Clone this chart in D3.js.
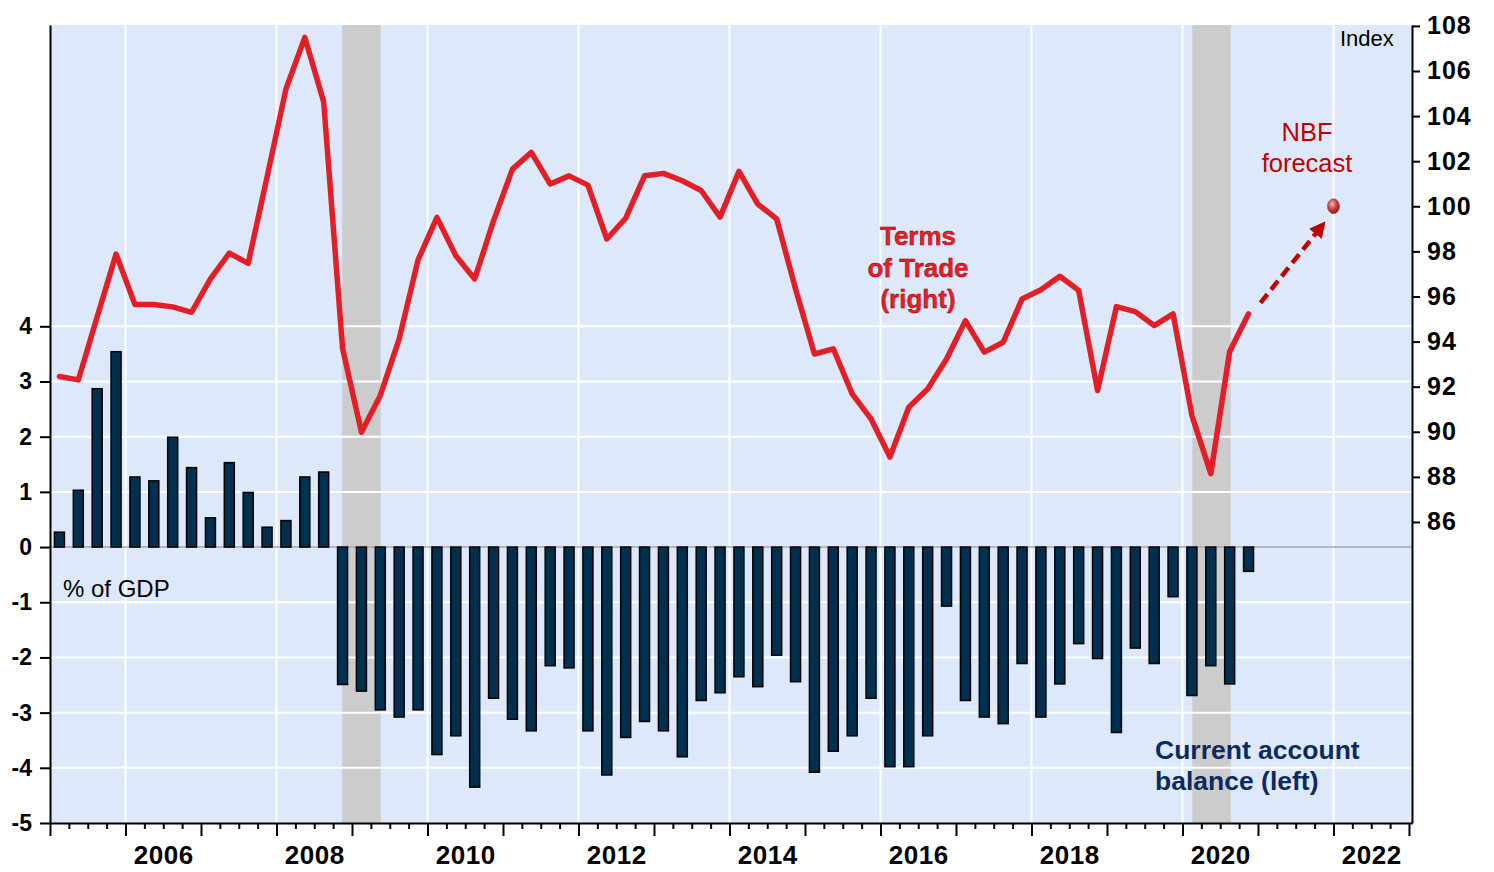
<!DOCTYPE html>
<html>
<head>
<meta charset="utf-8">
<script src="https://cdn.jsdelivr.net/npm/d3@7"></script>
<style>
  body { margin: 0; background: #fff; }
  svg { display: block; font-family: "Liberation Sans", Arial, sans-serif; }
</style>
</head>
<body>
<div id="chart"></div>
<script>
// Quarters, 2005Q1 .. 2020Q4
const quarters = [
  "2005Q1", "2005Q2", "2005Q3", "2005Q4", "2006Q1", "2006Q2", "2006Q3", "2006Q4",
  "2007Q1", "2007Q2", "2007Q3", "2007Q4", "2008Q1", "2008Q2", "2008Q3", "2008Q4",
  "2009Q1", "2009Q2", "2009Q3", "2009Q4", "2010Q1", "2010Q2", "2010Q3", "2010Q4",
  "2011Q1", "2011Q2", "2011Q3", "2011Q4", "2012Q1", "2012Q2", "2012Q3", "2012Q4",
  "2013Q1", "2013Q2", "2013Q3", "2013Q4", "2014Q1", "2014Q2", "2014Q3", "2014Q4",
  "2015Q1", "2015Q2", "2015Q3", "2015Q4", "2016Q1", "2016Q2", "2016Q3", "2016Q4",
  "2017Q1", "2017Q2", "2017Q3", "2017Q4", "2018Q1", "2018Q2", "2018Q3", "2018Q4",
  "2019Q1", "2019Q2", "2019Q3", "2019Q4", "2020Q1", "2020Q2", "2020Q3", "2020Q4"
];

// Current account balance, % of GDP (left axis)
const currentAccount = [
  0.27, 1.03, 2.87, 3.54,
  1.27, 1.20, 1.99, 1.44,
  0.53, 1.53, 0.99, 0.36,
  0.48, 1.27, 1.36, -2.49,
  -2.61, -2.95, -3.08, -2.95,
  -3.76, -3.42, -4.35, -2.74,
  -3.12, -3.33, -2.15, -2.19,
  -3.33, -4.13, -3.45, -3.16,
  -3.33, -3.80, -2.78, -2.64,
  -2.35, -2.53, -1.96, -2.44,
  -4.08, -3.70, -3.42, -2.74,
  -3.98, -3.98, -3.42, -1.07,
  -2.78, -3.08, -3.20, -2.11,
  -3.08, -2.48, -1.75, -2.02,
  -3.36, -1.83, -2.11, -0.90,
  -2.69, -2.15, -2.48, -0.44
];

// Terms of trade index (right axis)
const termsOfTrade = [
  92.45, 92.30, 95.10, 97.88,
  95.64, 95.64, 95.54, 95.30,
  96.78, 97.92, 97.47, 101.30,
  105.20, 107.49, 104.63, 93.70,
  89.98, 91.61, 94.12, 97.62,
  99.51, 97.81, 96.78, 99.36,
  101.65, 102.39, 100.99, 101.35,
  100.94, 98.55, 99.47, 101.35,
  101.46, 101.13, 100.70, 99.52,
  101.55, 100.10, 99.44, 96.33,
  93.45, 93.68, 91.68, 90.57,
  88.88, 91.09, 91.90, 93.23,
  94.93, 93.53, 93.97, 95.89,
  96.30, 96.90, 96.27, 91.83,
  95.55, 95.33, 94.71, 95.23,
  90.72, 88.14, 93.56, 95.23
];

// NBF forecast point
const forecastYear = 2022.0;
const forecastValue = 100;

// Recession shading (decimal years)
const recessions = [[2008.87, 2009.38], [2020.13, 2020.64]];

// Axis ticks
const leftTicks = [-5, -4, -3, -2, -1, 0, 1, 2, 3, 4];
const rightTicks = [86, 88, 90, 92, 94, 96, 98, 100, 102, 104, 106, 108];
const labelYears = [2006, 2008, 2010, 2012, 2014, 2016, 2018, 2020, 2022];

// helpers
const quarterStart = q => +q.slice(0, 4) + (+q.slice(5) - 1) / 4;
const quarterMid = q => quarterStart(q) + 0.125;

const W = 1494, H = 872;
const plot = {left: 50, right: 1412, top: 25, bottom: 823};
const FONT = "Liberation Sans, Arial, sans-serif";

const svg = d3.select("#chart").append("svg")
  .attr("width", W).attr("height", H);

const x = d3.scaleLinear().domain([2005, 2023.04]).range([plot.left, plot.right]);
const yLeft = d3.scaleLinear().domain([-5, 9.46]).range([plot.bottom, plot.top]);
const yRight = d3.scaleLinear().domain([72.65, 108.04]).range([plot.bottom, plot.top]);

// background
svg.append("rect")
  .attr("x", plot.left).attr("y", plot.top)
  .attr("width", plot.right - plot.left).attr("height", plot.bottom - plot.top)
  .attr("fill", "#dde9fb");

// recessions
svg.selectAll("rect.recession").data(recessions).enter().append("rect")
  .attr("class", "recession")
  .attr("x", d => x(d[0])).attr("y", plot.top)
  .attr("width", d => x(d[1]) - x(d[0])).attr("height", plot.bottom - plot.top)
  .attr("fill", "#cccccc");

// vertical gridlines
svg.selectAll("line.vgrid").data(labelYears).enter().append("line")
  .attr("class", "vgrid")
  .attr("x1", d => x(d)).attr("x2", d => x(d))
  .attr("y1", plot.top).attr("y2", plot.bottom)
  .attr("stroke", "#fff").attr("stroke-width", 2);

// horizontal gridlines (left axis values)
svg.selectAll("line.hgrid").data(leftTicks.filter(d => d !== 0 && d !== -5)).enter().append("line")
  .attr("class", "hgrid")
  .attr("x1", plot.left).attr("x2", plot.right)
  .attr("y1", d => yLeft(d)).attr("y2", d => yLeft(d))
  .attr("stroke", "#fff").attr("stroke-width", 2);

// zero line
svg.append("line")
  .attr("x1", plot.left).attr("x2", plot.right)
  .attr("y1", yLeft(0)).attr("y2", yLeft(0))
  .attr("stroke", "#a6a6a6").attr("stroke-width", 1.5);

// bars
const barW = 10;
svg.selectAll("rect.bar").data(quarters).enter().append("rect")
  .attr("class", "bar")
  .attr("x", q => x(quarterMid(q)) - barW / 2)
  .attr("y", (q, i) => yLeft(Math.max(0, currentAccount[i])))
  .attr("width", barW)
  .attr("height", (q, i) => Math.abs(yLeft(currentAccount[i]) - yLeft(0)))
  .attr("fill", "#003050")
  .attr("stroke", "#000").attr("stroke-width", 1.5);

// terms of trade line
const totData = quarters.map((q, i) => ({t: quarterMid(q), v: termsOfTrade[i]}));
svg.append("path")
  .datum(totData)
  .attr("d", d3.line().x(d => x(d.t)).y(d => yRight(d.v)))
  .attr("fill", "none")
  .attr("stroke", "#e41e26").attr("stroke-width", 5.5)
  .attr("stroke-linejoin", "round").attr("stroke-linecap", "round");

// forecast arrow + dot
const defs = svg.append("defs");
defs.append("marker")
  .attr("id", "arrowHead")
  .attr("viewBox", "0 0 10 10").attr("refX", 6).attr("refY", 5)
  .attr("markerWidth", 3.6).attr("markerHeight", 3.6)
  .attr("markerUnits", "strokeWidth")
  .attr("orient", "auto")
  .append("path").attr("d", "M0,0 L10,5 L0,10 z").attr("fill", "#c00000");

const grad = defs.append("radialGradient").attr("id", "dotGrad")
  .attr("cx", "40%").attr("cy", "35%").attr("r", "65%");
grad.append("stop").attr("offset", "0%").attr("stop-color", "#f2b3b3");
grad.append("stop").attr("offset", "60%").attr("stop-color", "#c0393b");
grad.append("stop").attr("offset", "100%").attr("stop-color", "#8e1a1a");

const last = totData[totData.length - 1];
const x0 = x(last.t), y0 = yRight(last.v);
const xf = x(forecastYear), yf = yRight(forecastValue);
svg.append("line")
  .attr("x1", x0 + 12).attr("y1", y0 - 11)
  .attr("x2", xf - 12).attr("y2", yf + 20)
  .attr("stroke", "#c00000").attr("stroke-width", 4.5)
  .attr("stroke-dasharray", "11,6")
  .attr("marker-end", "url(#arrowHead)");

svg.append("ellipse")
  .attr("cx", xf).attr("cy", yf).attr("rx", 6).attr("ry", 7.5)
  .attr("fill", "url(#dotGrad)").attr("stroke", "#b05050").attr("stroke-width", 0.8);

// axes
const leftAxis = svg.append("g")
  .attr("transform", `translate(${plot.left},0)`)
  .call(d3.axisLeft(yLeft).tickValues(leftTicks).tickSize(10).tickSizeOuter(0).tickPadding(8)
    .tickFormat(d => String(d)));

const rightAxis = svg.append("g")
  .attr("transform", `translate(${plot.right},0)`)
  .call(d3.axisRight(yRight).tickValues(rightTicks).tickSize(8).tickSizeOuter(0).tickPadding(7));

const quarterTicks = d3.range(0, 73).map(k => 2005 + k / 4);
const minorAxis = svg.append("g")
  .attr("transform", `translate(0,${plot.bottom})`)
  .call(d3.axisBottom(x).tickValues(quarterTicks).tickSize(6).tickSizeOuter(0).tickFormat(""));
minorAxis.selectAll(".tick line")
  .attr("y2", d => Number.isInteger(d) ? 13 : 6);

const labelAxis = svg.append("g")
  .attr("transform", `translate(0,${plot.bottom})`)
  .call(d3.axisBottom(x).tickValues(labelYears.map(y => y + 0.5)).tickSize(0).tickPadding(23)
    .tickFormat(d => Math.floor(d)));
labelAxis.select(".domain").remove();

[leftAxis, rightAxis, minorAxis].forEach(g => {
  g.select(".domain").attr("stroke", "#000").attr("stroke-width", 2);
  g.selectAll(".tick line").attr("stroke", "#000").attr("stroke-width", 2);
});
leftAxis.selectAll("text").attr("font-size", 23).attr("font-weight", "bold").attr("fill", "#000")
  .attr("font-family", FONT);
rightAxis.selectAll("text").attr("font-size", 25).attr("font-weight", "bold").attr("fill", "#000")
  .attr("font-family", FONT).style("letter-spacing", "1px");
labelAxis.selectAll("text").attr("font-size", 26).attr("font-weight", "bold").attr("fill", "#000")
  .attr("font-family", FONT).style("letter-spacing", "0.5px");

// annotations
function multiline(lines, px, py, lh, opts) {
  const t = svg.append("text")
    .attr("x", px).attr("y", py)
    .attr("text-anchor", opts.anchor || "middle")
    .attr("font-size", opts.size)
    .attr("font-weight", opts.weight || "normal")
    .attr("fill", opts.fill);
  lines.forEach((s, i) => t.append("tspan").attr("x", px).attr("dy", i === 0 ? 0 : lh).text(s));
  return t;
}

multiline(["NBF", "forecast"], 1307, 141, 31, {size: 25.5, fill: "#c00000"});
multiline(["Terms", "of Trade", "(right)"], 918, 245, 31.5, {size: 26, weight: "bold", fill: "#ee1c25"})
  .attr("stroke", "#7a0000").attr("stroke-width", 0.4);
multiline(["Current account", "balance (left)"], 1155, 759, 31, {size: 26.5, weight: "bold", fill: "#0c2a62", anchor: "start"});

svg.append("text").attr("x", 63).attr("y", 597)
  .attr("font-size", 24).attr("fill", "#000").text("% of GDP");
svg.append("text").attr("x", 1340).attr("y", 46)
  .attr("font-size", 22).attr("fill", "#000").text("Index");
</script>
</body>
</html>
